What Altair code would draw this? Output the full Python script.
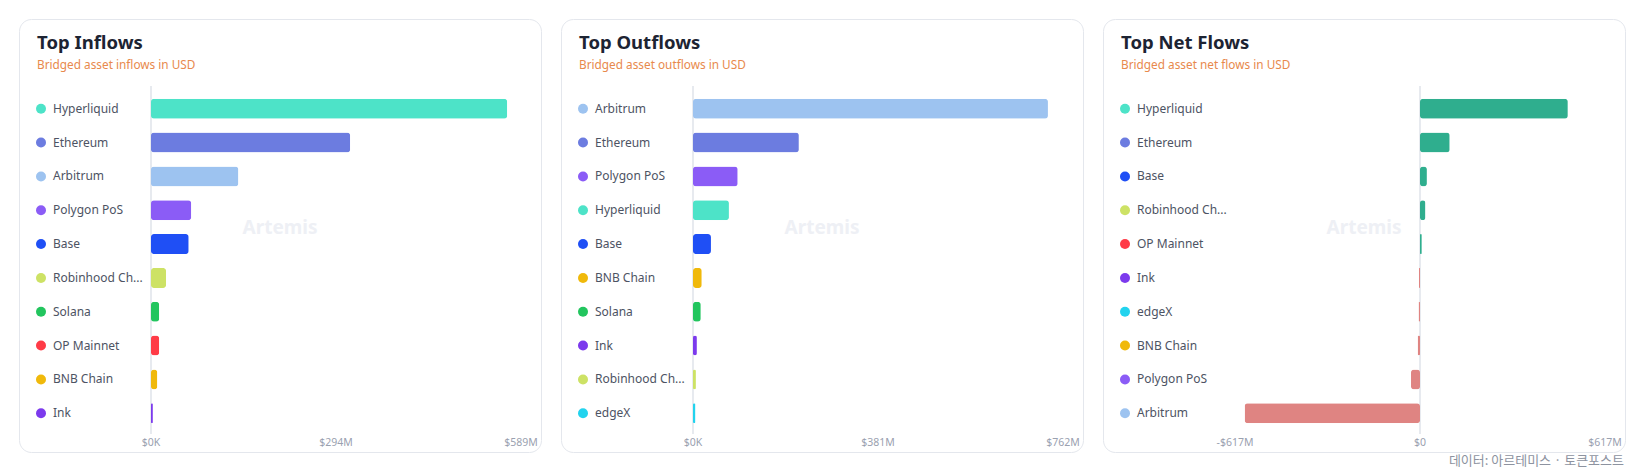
import altair as alt
import pandas as pd

# ---------------- data ----------------
chains_in = ["Hyperliquid", "Ethereum", "Arbitrum", "Polygon PoS", "Base",
             "Robinhood Chain", "Solana", "OP Mainnet", "BNB Chain", "Ink"]
inflows_musd = [567, 317, 139, 64, 60, 24, 13, 13, 10, 3]

chains_out = ["Arbitrum", "Ethereum", "Polygon PoS", "Hyperliquid", "Base",
              "BNB Chain", "Solana", "Ink", "Robinhood Chain", "edgeX"]
outflows_musd = [731, 218, 92, 74, 37, 18, 16, 8, 6, 5]

chains_net = ["Hyperliquid", "Ethereum", "Base", "Robinhood Chain", "OP Mainnet",
              "Ink", "edgeX", "BNB Chain", "Polygon PoS", "Arbitrum"]
netflows_musd = [493, 99, 23, 18, 6, -4, -5, -8, -30, -585]

ticks_in = [0, 294.5, 589]
tick_labels_in = ["$0K", "$294M", "$589M"]
ticks_out = [0, 381, 762]
tick_labels_out = ["$0K", "$381M", "$762M"]
ticks_net = [-617, 0, 617]
tick_labels_net = ["-$617M", "$0", "$617M"]

chain_colors = {
    "Hyperliquid": "#4de3c8",
    "Ethereum": "#6c7ce0",
    "Arbitrum": "#9dc3f0",
    "Polygon PoS": "#8b5cf6",
    "Base": "#1f4ff5",
    "Robinhood Chain": "#cde265",
    "Solana": "#22c55e",
    "OP Mainnet": "#ff3b47",
    "BNB Chain": "#f0b90b",
    "Ink": "#7c3aed",
    "edgeX": "#22d3ee",
}
POS_COLOR = "#2fae8e"
NEG_COLOR = "#df8482"

FONT = "Noto Sans"
KFONT = "Noto Sans CJK KR"
W, H = 522, 433


def panel(title, subtitle, chains, values, domain, tick_vals, tick_labels,
          net=False, footer=None):
    df = pd.DataFrame({
        "chain": chains,
        "value": values,
        "color": [chain_colors[c] for c in chains],
    })
    yscale = alt.Scale(domain=chains, range=[73, 411],
                       paddingInner=0.41, paddingOuter=0.2)
    ydef = alt.Y("chain:N", sort=chains, scale=yscale, axis=None)
    xscale = alt.Scale(domain=domain, range=[132, 502], nice=False, zero=True)

    base = alt.Chart(df)

    watermark = alt.Chart(pd.DataFrame({"t": ["Artemis"]})).mark_text(
        font=FONT, fontSize=19, fontWeight="bold", color="#eef0f5",
        align="center", baseline="middle"
    ).encode(x=alt.value(261), y=alt.value(209), text="t:N")

    zero = alt.Chart(pd.DataFrame({"v": [0]})).mark_rule(
        color="#dfe3ea", strokeWidth=1.5
    ).encode(x=alt.X("v:Q", scale=xscale, axis=None),
             y=alt.value(67), y2=alt.value(415))

    if net:
        bar_color = alt.condition("datum.value >= 0", alt.value(POS_COLOR),
                                  alt.value(NEG_COLOR))
    else:
        bar_color = alt.Color("color:N", scale=None, legend=None)

    bars = base.mark_bar(cornerRadius=3).encode(
        x=alt.X("value:Q", scale=xscale, axis=None),
        y=ydef,
        color=bar_color,
    )

    dots = base.mark_circle(size=100, opacity=1).encode(
        x=alt.value(22), y=ydef,
        color=alt.Color("color:N", scale=None, legend=None),
    )

    labels = base.mark_text(
        font=FONT, fontSize=12, color="#4d5363", align="left",
        baseline="middle", limit=96.3, ellipsis="..."
    ).encode(x=alt.value(34), y=ydef, text="chain:N")

    ticks = alt.Chart(pd.DataFrame({"v": tick_vals, "label": tick_labels})).mark_text(
        font=FONT, fontSize=10.5, color="#9aa1b0", align="center", baseline="middle"
    ).encode(x=alt.X("v:Q", scale=xscale, axis=None), y=alt.value(424),
             text="label:N")

    ttl = alt.Chart(pd.DataFrame({"t": [title]})).mark_text(
        font=FONT, fontSize=18.5, fontWeight="bold", color="#1d2433",
        align="left", baseline="alphabetic"
    ).encode(x=alt.value(18), y=alt.value(30), text="t:N")

    sub = alt.Chart(pd.DataFrame({"t": [subtitle]})).mark_text(
        font=FONT, fontSize=11.8, color="#e8894c",
        align="left", baseline="alphabetic"
    ).encode(x=alt.value(18), y=alt.value(50), text="t:N")

    layers = [watermark, zero, bars, dots, labels, ticks, ttl, sub]
    if footer:
        foot = alt.Chart(pd.DataFrame({"t": [footer]})).mark_text(
            font=KFONT, fontSize=13, color="#8d93a0",
            align="right", baseline="middle"
        ).encode(x=alt.value(521), y=alt.value(442), text="t:N")
        layers.append(foot)

    return alt.layer(*layers).properties(width=W, height=H)


p1 = panel("Top Inflows", "Bridged asset inflows in USD",
           chains_in, inflows_musd, [0, 589], ticks_in, tick_labels_in)
p2 = panel("Top Outflows", "Bridged asset outflows in USD",
           chains_out, outflows_musd, [0, 762], ticks_out, tick_labels_out)
p3 = panel("Top Net Flows", "Bridged asset net flows in USD",
           chains_net, netflows_musd, [-617, 617], ticks_net, tick_labels_net,
           net=True, footer="데이터: 아르테미스 · 토큰포스트")

chart = alt.hconcat(p1, p2, p3, spacing=18).configure(
    padding={"left": 10, "top": 10, "right": 0, "bottom": 0},
    background="white",
).configure_view(
    fill="white", stroke="#e4e7ed", strokeWidth=1, cornerRadius=12
)

chart.save("out.html", embed_options={"renderer": "svg", "actions": False})
